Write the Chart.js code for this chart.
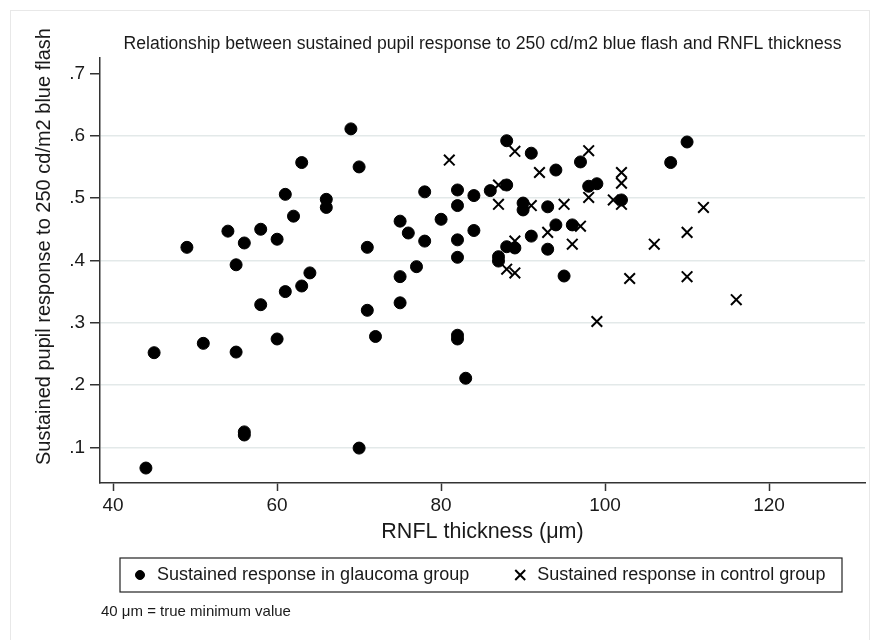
<!DOCTYPE html>
<html>
<head>
<meta charset="utf-8">
<script src="https://cdn.jsdelivr.net/npm/chart.js@4"></script>
<style>
  html, body { margin: 0; padding: 0; background: #fff; }
  #wrap { width: 878px; height: 640px; }
</style>
</head>
<body>
<div id="wrap"><canvas id="chart" width="878" height="640"></canvas></div>
<script>
// RNFL thickness (um) and sustained response, glaucoma group
const glaucomaThickness = [44, 45, 49, 51, 54, 55, 55, 56, 56, 56, 58, 58, 60, 60, 61, 61, 62, 63, 63, 64,
  66, 66, 69, 70, 70, 71, 71, 72, 75, 75, 75, 76, 77, 78, 78, 80, 82, 82, 82, 82,
  82, 82, 83, 84, 84, 86, 87, 87, 88, 88, 88, 89, 90, 90, 91, 91, 93, 93, 94, 94,
  95, 96, 97, 98, 99, 102, 108, 110];
const glaucomaResponse = [.067, .252, .421, .267, .447, .393, .253, .428, .125, .120, .450, .329, .434, .274, .506, .350, .471, .557, .359, .380,
  .498, .485, .611, .550, .099, .421, .320, .278, .463, .374, .332, .444, .390, .510, .431, .466, .513, .488, .433, .405,
  .280, .274, .211, .504, .448, .512, .406, .399, .592, .521, .422, .420, .492, .481, .572, .439, .486, .418, .545, .457,
  .375, .457, .558, .519, .523, .497, .557, .590];

// control group
const controlThickness = [81, 87, 87, 88, 89, 89, 89, 91, 92, 93, 95, 96, 97, 98, 98, 99, 101, 102, 102, 102,
  103, 106, 110, 110, 112, 116];
const controlResponse = [.561, .521, .490, .386, .575, .431, .380, .488, .541, .445, .490, .426, .455, .576, .501, .302, .497, .541, .524, .490,
  .371, .426, .445, .374, .485, .337];

const xTicks = [40, 60, 80, 100, 120];
const yTicks = [.1, .2, .3, .4, .5, .6, .7];

const yTitle = 'Sustained pupil response to 250 cd/m2 blue flash';
const note = '40 \u03BCm = true minimum value';

const FONT = '"Liberation Sans", Arial, Helvetica, sans-serif';
const INK = '#1a1a1a';

const toPoints = (xs, ys) => xs.map((x, i) => ({ x: x, y: ys[i] }));

// white page, faint outer frame, y title, boxed legend and footnote
const pageDecor = {
  id: 'pageDecor',
  beforeDraw(chart) {
    const ctx = chart.ctx;
    ctx.save();
    ctx.fillStyle = '#fff';
    ctx.fillRect(0, 0, chart.width, chart.height);
    ctx.strokeStyle = '#e8e8e8';
    ctx.lineWidth = 1;
    ctx.strokeRect(10.5, 10.5, chart.width - 19, chart.height - 6);
    ctx.restore();
  },
  afterDraw(chart) {
    const { ctx, chartArea } = chart;

    // y axis title sits a bit higher than the plot centre, as in the original
    ctx.save();
    ctx.translate(44, (chartArea.top + chartArea.bottom) / 2 - 24);
    ctx.rotate(-Math.PI / 2);
    ctx.font = '20px ' + FONT;
    ctx.fillStyle = INK;
    ctx.textAlign = 'center';
    ctx.textBaseline = 'middle';
    ctx.fillText(yTitle, 0, 0);
    ctx.restore();

    const top = chartArea.bottom + 75;
    const h = 34;
    const left = chartArea.left + 20;
    const right = chartArea.right - 23;
    const cy = top + h / 2;

    ctx.save();
    ctx.strokeStyle = '#222';
    ctx.lineWidth = 1.2;
    ctx.strokeRect(left, top, right - left, h);

    ctx.font = '18px ' + FONT;
    ctx.textBaseline = 'middle';
    ctx.textAlign = 'left';
    let x = left + 20;
    chart.data.datasets.forEach((ds) => {
      ctx.fillStyle = ds.backgroundColor;
      ctx.strokeStyle = ds.borderColor;
      ctx.lineWidth = ds.borderWidth;
      Chart.helpers.drawPoint(ctx, {
        pointStyle: ds.pointStyle,
        radius: ds.pointStyle === 'circle' ? 4.5 : 7,
        borderWidth: ds.borderWidth,
        rotation: 0
      }, x, cy);
      ctx.fillStyle = INK;
      ctx.fillText(ds.label, x + 17, cy);
      x += 17 + ctx.measureText(ds.label).width + 51;
    });

    ctx.font = '15px ' + FONT;
    ctx.fillStyle = INK;
    ctx.fillText(note, chartArea.left + 1, top + h + 20);
    ctx.restore();
  }
};

new Chart(document.getElementById('chart'), {
  type: 'scatter',
  data: {
    datasets: [
      {
        label: 'Sustained response in glaucoma group',
        data: toPoints(glaucomaThickness, glaucomaResponse),
        pointStyle: 'circle',
        pointRadius: 6,
        backgroundColor: '#000',
        borderColor: '#000',
        borderWidth: 1
      },
      {
        label: 'Sustained response in control group',
        data: toPoints(controlThickness, controlResponse),
        pointStyle: 'crossRot',
        pointRadius: 7.5,
        backgroundColor: '#000',
        borderColor: '#000',
        borderWidth: 2
      }
    ]
  },
  options: {
    responsive: false,
    animation: false,
    devicePixelRatio: 1,
    events: [],
    layout: { padding: { top: 0, left: 0, right: 13, bottom: 95 } },
    plugins: {
      legend: { display: false },
      tooltip: { enabled: false },
      title: {
        display: true,
        text: 'Relationship between sustained pupil response to 250 cd/m2 blue flash and RNFL thickness',
        fullSize: false,
        color: INK,
        font: { family: FONT, size: 17.6, weight: 'normal' },
        padding: { top: 34, bottom: 3 }
      }
    },
    scales: {
      x: {
        type: 'linear',
        min: 38.4,
        max: 131.7,
        afterFit(s) { s.height = 62; },
        afterBuildTicks(axis) { axis.ticks = xTicks.map(v => ({ value: v })); },
        border: { display: true, color: '#333', width: 1.5 },
        grid: { drawOnChartArea: false, drawTicks: true, tickLength: 8, tickColor: '#333', tickWidth: 1.5 },
        ticks: { color: INK, font: { family: FONT, size: 19 }, padding: 3, maxRotation: 0 },
        title: {
          display: true,
          text: 'RNFL thickness (\u03BCm)',
          color: INK,
          font: { family: FONT, size: 21.5 },
          padding: { top: 0, bottom: 0 }
        }
      },
      y: {
        type: 'linear',
        min: 0.043,
        max: 0.7245,
        afterFit(s) { s.width = 100; },
        afterBuildTicks(axis) { axis.ticks = yTicks.map(v => ({ value: v })); },
        border: { display: true, color: '#333', width: 1.5 },
        grid: {
          color: (c) => (c.tick && c.tick.value > 0.65 ? 'rgba(0,0,0,0)' : '#e3e9e9'),
          lineWidth: 1.5,
          tickLength: 10,
          tickColor: '#333',
          tickWidth: 1.5
        },
        ticks: {
          color: INK,
          font: { family: FONT, size: 19 },
          padding: 5,
          callback: (v) => v.toFixed(1).replace(/^0/, '')
        },
        title: { display: false }
      }
    }
  },
  plugins: [pageDecor]
});
</script>
</body>
</html>
